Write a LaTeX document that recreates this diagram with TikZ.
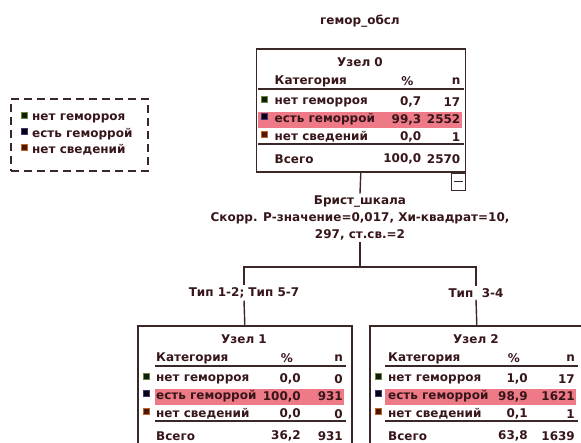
\documentclass[tikz,border=0pt]{standalone}
\usepackage{fontspec}
\setmainfont{DejaVu Sans}
\usetikzlibrary{positioning}
\definecolor{ink}{RGB}{55,22,26}
\definecolor{frame}{RGB}{58,40,40}
\definecolor{hilite}{RGB}{238,122,136}
\definecolor{catA}{RGB}{14,30,12}
\definecolor{catAedge}{RGB}{110,130,60}
\definecolor{catB}{RGB}{4,2,16}
\definecolor{catBedge}{RGB}{70,50,110}
\definecolor{catC}{RGB}{78,24,4}
\definecolor{catCedge}{RGB}{190,100,40}
\tikzset{every node/.style={font=\bfseries\fontsize{12}{17}\selectfont, text=ink},
         cell/.style={inner sep=0pt},
         nodebox/.style={draw=frame, line width=1.6pt, minimum height=123pt, inner sep=0pt},
         foldbox/.style={draw=frame, line width=1.4pt, minimum width=14pt, minimum height=17pt, inner sep=0pt},
         legendbox/.style={draw=frame, line width=1.6pt, dash pattern=on 8pt off 5pt, inner sep=0pt},
         tabrule/.style={draw=frame, line width=1.5pt},
         branch/.style={draw=frame, line width=1.4pt},
         legA/.style={fill=catA, draw=catAedge, line width=0.6pt},
         legB/.style={fill=catB, draw=catBedge, line width=0.6pt},
         legC/.style={fill=catC, draw=catCedge, line width=0.6pt}}
% #1 name, #2 left, #3 top, #4 width, #5 title, #6 % column, #7 n margin, #8 data, #9 rule start
\newcommand\treenode[9]{%
  \node[nodebox, minimum width=#4pt, anchor=north west] (#1) at (#2,#3) {};
  \node[cell] (#1-title) at (#2+#4/2,#3+14) {#5};
  \fill[hilite] (#2+#9,#3+64) rectangle (#2+#4-#7+1,#3+80);
  \node[cell, anchor=west] (#1-cat) at (#2+19,#3+33) {Категория};
  \node[cell] (#1-pct) at (#2+#6-14,#3+33) {\%};
  \node[cell, anchor=east] (#1-n) at (#2+#4-#7,#3+33) {n};
  \draw[tabrule] (#2+#9,#3+41) -- (#2+#4-#7+3,#3+41);
  \draw[tabrule] (#2+#9,#3+96) -- (#2+#4-#7+3,#3+96);
  \foreach \lbl/\sw [count=\i] in {нет геморроя/legA, есть геморрой/legB, нет сведений/legC, Всего/legA} {
    \pgfmathsetmacro\yy{\i<4 ? #3+36.5+17.5*\i : #3+111}
    \ifnum\i<4 \path[\sw] (#2+6,\yy-6) rectangle ++(6,6); \fi
    \node[cell, anchor=west] (#1-lbl\i) at (#2+19,\yy) {\lbl};
  }
  \foreach \p/\n [count=\i] in {#8} {
    \pgfmathsetmacro\yy{\i<4 ? #3+36.5+17.5*\i : #3+111}
    \node[cell, anchor=east] (#1-p\i) at (#2+#6,\yy) {\p};
    \node[cell, anchor=east] (#1-n\i) at (#2+#4-#7,\yy) {\n};
  }
}

\begin{document}
\begin{tikzpicture}[x=1pt,y=-1pt]
  \useasboundingbox (0,0) rectangle (581,443);
  \clip (0,0) rectangle (581,443);
  \node (target) at (360,21) {гемор\_обсл};
  % legend
  \node[legendbox, minimum width=137pt, minimum height=72pt, anchor=north west] (legend) at (10,98) {};
  \foreach \lbl/\sw/\yy in {нет геморроя/legA/118, есть геморрой/legB/134, нет сведений/legC/150} {
    \path[\sw] (21,\yy-6) rectangle ++(6,6);
    \node[cell, anchor=west] (key-\sw) at (32,\yy) {\lbl};
  }
  % tree
  \treenode{n0}{255.5}{48}{209}{Узел 0}{166}{4}{{0,7}/17, {99,3}/2552, {0,0}/1, {100,0}/2570}{2}
  \node[foldbox, anchor=north east] (fold) at (n0.south east) {};
  \draw[branch] ([xshift=3pt]fold.west) -- ([xshift=-3pt]fold.east);
  \node[align=center, inner sep=2pt] (split) at (360,218)
    {Брист\_шкала\\Скорр. Р-значение=0,017, Хи-квадрат=10,\\297, ст.св.=2};
  \coordinate (fork) at (360,267);
  \node[inner sep=2pt] (lab1) at (244,293) {Тип 1-2; Тип 5-7};
  \node[inner sep=2pt] (lab2) at (476,293) {Тип\ \ 3-4};
  \treenode{n1}{137}{325}{214}{Узел 1}{164}{8}{{0,0}/0, {100,0}/931, {0,0}/0, {36,2}/931}{18}
  \treenode{n2}{369}{325}{214}{Узел 2}{159}{8}{{1,0}/17, {98,9}/1621, {0,1}/1, {63,8}/1639}{16}
  \draw[branch] (n0.south) -- (split.north);
  \draw[branch] (split.south) -- (fork);
  \draw[branch] (fork) -| (lab1.north);
  \draw[branch] (fork) -| (lab2.north);
  \draw[branch] (lab1.south) -- (n1.north);
  \draw[branch] (lab2.south) -- (n2.north);
\end{tikzpicture}
\end{document}
